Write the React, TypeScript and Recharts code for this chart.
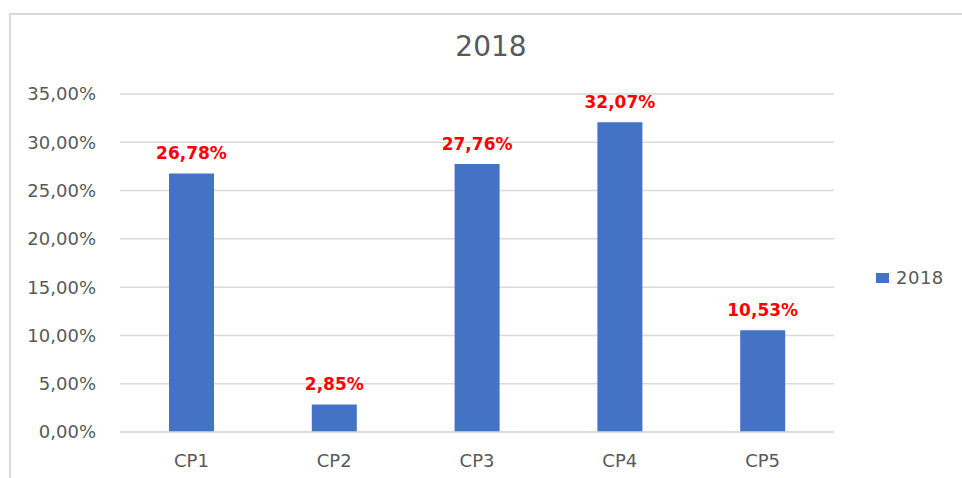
import { BarChart, Bar, XAxis, YAxis, CartesianGrid, Legend, LabelList } from "recharts";

const categories = ["CP1", "CP2", "CP3", "CP4", "CP5"];
const values2018 = [26.78, 2.85, 27.76, 32.07, 10.53];
const yTicks = [0, 5, 10, 15, 20, 25, 30, 35];

const data = categories.map((name, i) => ({ name, v2018: values2018[i] }));

const FONT = "'DejaVu Sans', Verdana, sans-serif";
const GRAY = "#595959";
const LINE = "#d9d9d9";
const BLUE = "#4472C4";

const pct = (v: number) => v.toFixed(2).replace(".", ",") + "%";

const LegendBox = () => (
  <div style={{ display: "flex", alignItems: "center", fontFamily: FONT, fontSize: 18, color: GRAY }}>
    <span style={{ display: "inline-block", width: 13, height: 10, background: BLUE, marginRight: 7 }} />
    <span style={{ letterSpacing: 0.5 }}>2018</span>
  </div>
);

export default function App() {
  return (
    <div style={{ position: "absolute", left: 0, top: 0, width: 962, height: 478, background: "#fff", overflow: "hidden" }}>
      <div
        style={{
          position: "absolute",
          left: 9,
          top: 13,
          width: 980,
          height: 500,
          borderLeft: `2px solid ${LINE}`,
          borderTop: `2px solid ${LINE}`,
        }}
      />
      <div
        style={{
          position: "absolute",
          left: 391,
          top: 33,
          width: 200,
          textAlign: "center",
          fontFamily: FONT,
          fontSize: 28,
          lineHeight: "28px",
          color: GRAY,
        }}
      >
        2018
      </div>
      <BarChart
        width={962}
        height={478}
        data={data}
        margin={{ top: 94, right: 128, bottom: 0, left: 0 }}
        style={{ position: "absolute", left: 0, top: 0 }}
      >
        <CartesianGrid vertical={false} stroke={LINE} strokeWidth={1.5} />
        <XAxis
          dataKey="name"
          height={46}
          tickSize={0}
          tickMargin={22}
          axisLine={{ stroke: LINE, strokeWidth: 1.5 }}
          tickLine={false}
          tick={{ fill: GRAY, fontSize: 18, fontFamily: FONT }}
        />
        <YAxis
          width={120}
          domain={[0, 35]}
          ticks={yTicks}
          tickFormatter={pct}
          tickSize={0}
          tickMargin={24}
          axisLine={false}
          tickLine={false}
          tick={{ fill: GRAY, fontSize: 18, fontFamily: FONT }}
        />
        <Legend
          layout="horizontal"
          verticalAlign="middle"
          align="center"
          wrapperStyle={{ left: 876, top: 267, width: 90, height: 20 }}
          content={() => <LegendBox />}
        />
        <Bar dataKey="v2018" name="2018" fill={BLUE} barSize={45} isAnimationActive={false}>
          <LabelList
            dataKey="v2018"
            position="top"
            offset={14}
            formatter={(v: any) => pct(Number(v))}
            style={{ fill: "#FF0000", fontWeight: "bold", fontSize: 17, fontFamily: FONT }}
          />
        </Bar>
      </BarChart>
    </div>
  );
}
